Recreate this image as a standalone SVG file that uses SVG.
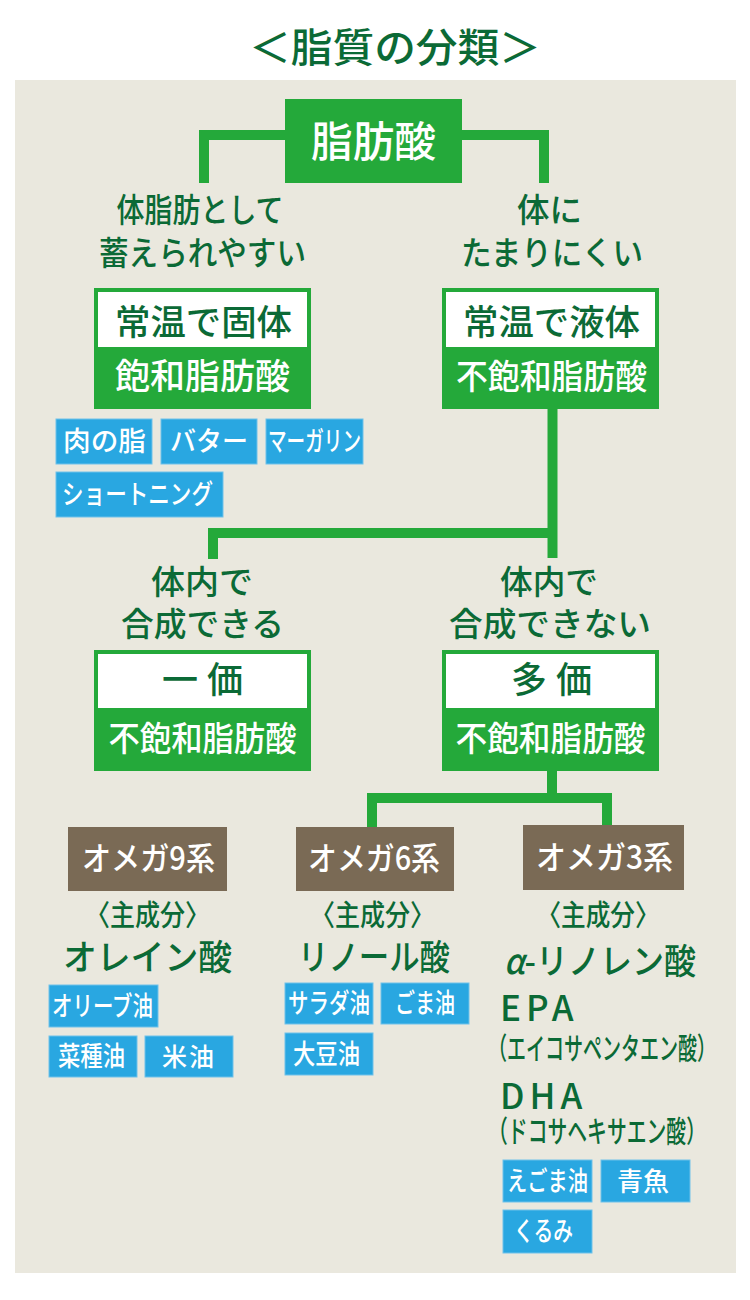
<svg xmlns="http://www.w3.org/2000/svg" width="750" height="1300" viewBox="0 0 750 1300">
<style>
text{font-family:"Noto Sans CJK JP","Noto Sans CJK SC",sans-serif;}
.dg{fill:#0B6A36;font-weight:500;}
.wt{fill:#FFFFFF;font-weight:500;}
.gbox{fill:#24A93A;}
.wbox{fill:#FFFFFF;}
.brown{fill:#7A6A55;}
.tag{fill:#29A7E1;stroke:#6FC1EA;stroke-width:1;}
.conn{fill:none;stroke:#24A93A;stroke-width:10;stroke-linejoin:miter;stroke-linecap:butt;}
.mid{text-anchor:middle;}
</style>
<rect x="0" y="0" width="750" height="1300" fill="#FFFFFF"/>
<rect x="15" y="80" width="721" height="1193" fill="#EAE8DE"/>
<g id="title">
<text x="395" y="62" class="dg mid" font-size="40" font-weight="700" textLength="292" lengthAdjust="spacingAndGlyphs">＜脂質の分類＞</text>
</g>
<g id="connectors">
<path class="conn" d="M204,183 V135 H544 V183"/>
<path class="conn" d="M552.5,409 V558 M552.5,533 H213 V559"/>
<path class="conn" d="M552,771 V798 M372,827 V798 H607 V825"/>
</g>
<g id="node-fatty-acid">
<rect class="gbox" x="285" y="99" width="177" height="84"/>
<text x="373.5" y="157" class="wt mid" font-size="42" textLength="125" lengthAdjust="spacingAndGlyphs">脂肪酸</text>
</g>
<g id="label-left-top">
<text x="200" y="222" class="dg mid" font-size="33" textLength="167" lengthAdjust="spacingAndGlyphs">体脂肪として</text>
<text x="202.5" y="265" class="dg mid" font-size="33" textLength="207" lengthAdjust="spacingAndGlyphs">蓄えられやすい</text>
</g>
<g id="label-right-top">
<text x="549.5" y="222" class="dg mid" font-size="33" textLength="65" lengthAdjust="spacingAndGlyphs">体に</text>
<text x="552" y="265" class="dg mid" font-size="33" textLength="182" lengthAdjust="spacingAndGlyphs">たまりにくい</text>
</g>
<g id="node-saturated">
<rect class="gbox" x="94" y="288" width="217" height="121"/>
<rect class="wbox" x="98" y="292" width="209" height="55"/>
<text x="203.5" y="335" class="dg mid" font-size="35" textLength="177" lengthAdjust="spacingAndGlyphs">常温で固体</text>
<text x="202.5" y="389" class="wt mid" font-size="35" textLength="175" lengthAdjust="spacingAndGlyphs">飽和脂肪酸</text>
</g>
<g id="node-unsaturated">
<rect class="gbox" x="442" y="288" width="217" height="121"/>
<rect class="wbox" x="446" y="292" width="209" height="55"/>
<text x="551.5" y="335" class="dg mid" font-size="35" textLength="177" lengthAdjust="spacingAndGlyphs">常温で液体</text>
<text x="551.5" y="389" class="wt mid" font-size="34" textLength="191" lengthAdjust="spacingAndGlyphs">不飽和脂肪酸</text>
</g>
<g id="tags-saturated">
<rect class="tag" x="56" y="419" width="96" height="45"/>
<text x="63" y="451" class="wt" font-size="27" textLength="83" lengthAdjust="spacingAndGlyphs">肉の脂</text>
<rect class="tag" x="161" y="419" width="96" height="45"/>
<text x="170" y="451" class="wt" font-size="27" textLength="78" lengthAdjust="spacingAndGlyphs">バター</text>
<rect class="tag" x="266" y="419" width="97" height="45"/>
<text x="268" y="451" class="wt" font-size="27" textLength="93" lengthAdjust="spacingAndGlyphs">マーガリン</text>
<rect class="tag" x="56" y="472" width="167" height="45"/>
<text x="62" y="504" class="wt" font-size="27" textLength="151" lengthAdjust="spacingAndGlyphs">ショートニング</text>
</g>
<g id="label-left-mid">
<text x="202" y="594" class="dg mid" font-size="33" textLength="102" lengthAdjust="spacingAndGlyphs">体内で</text>
<text x="202.5" y="636" class="dg mid" font-size="33" textLength="163" lengthAdjust="spacingAndGlyphs">合成できる</text>
</g>
<g id="label-right-mid">
<text x="549" y="594" class="dg mid" font-size="33" textLength="98" lengthAdjust="spacingAndGlyphs">体内で</text>
<text x="550" y="636" class="dg mid" font-size="33" textLength="202" lengthAdjust="spacingAndGlyphs">合成できない</text>
</g>
<g id="node-mono">
<rect class="gbox" x="94" y="650" width="217" height="121"/>
<rect class="wbox" x="98" y="654" width="209" height="54"/>
<text x="202.5" y="693" class="dg mid" font-size="36" font-weight="700" textLength="81" lengthAdjust="spacing">一価</text>
<text x="202.5" y="751" class="wt mid" font-size="34" textLength="188" lengthAdjust="spacingAndGlyphs">不飽和脂肪酸</text>
</g>
<g id="node-poly">
<rect class="gbox" x="442" y="650" width="217" height="121"/>
<rect class="wbox" x="446" y="654" width="209" height="54"/>
<text x="551.5" y="693" class="dg mid" font-size="36" font-weight="700" textLength="81" lengthAdjust="spacing">多価</text>
<text x="550.5" y="751" class="wt mid" font-size="34" textLength="190" lengthAdjust="spacingAndGlyphs">不飽和脂肪酸</text>
</g>
<g id="node-omega9">
<rect class="brown" x="68" y="827" width="159" height="64"/>
<text x="148.5" y="870" class="wt mid" font-size="32" textLength="133" lengthAdjust="spacingAndGlyphs">オメガ9系</text>
<text x="147.5" y="926" class="dg mid" font-size="29" textLength="125" lengthAdjust="spacingAndGlyphs">〈主成分〉</text>
<text x="147.5" y="970" class="dg mid" font-size="35" textLength="169" lengthAdjust="spacingAndGlyphs">オレイン酸</text>
<rect class="tag" x="49" y="985" width="109" height="42"/>
<text x="52" y="1016" class="wt" font-size="27" textLength="101" lengthAdjust="spacingAndGlyphs">オリーブ油</text>
<rect class="tag" x="49" y="1036" width="88" height="41"/>
<text x="58" y="1066" class="wt" font-size="27" textLength="67" lengthAdjust="spacingAndGlyphs">菜種油</text>
<rect class="tag" x="145" y="1036" width="88" height="41"/>
<text y="1066" class="wt" font-size="25"><tspan x="162">米</tspan><tspan x="189">油</tspan></text>
</g>
<g id="node-omega6">
<rect class="brown" x="296" y="827" width="158" height="64"/>
<text x="374" y="870" class="wt mid" font-size="32" textLength="132" lengthAdjust="spacingAndGlyphs">オメガ6系</text>
<text x="372.5" y="926" class="dg mid" font-size="29" textLength="125" lengthAdjust="spacingAndGlyphs">〈主成分〉</text>
<text x="374" y="970" class="dg mid" font-size="35" textLength="152" lengthAdjust="spacingAndGlyphs">リノール酸</text>
<rect class="tag" x="285" y="983" width="88" height="41"/>
<text x="288" y="1013" class="wt" font-size="27" textLength="82" lengthAdjust="spacingAndGlyphs">サラダ油</text>
<rect class="tag" x="381" y="983" width="88" height="41"/>
<text x="395" y="1013" class="wt" font-size="27" textLength="60" lengthAdjust="spacingAndGlyphs">ごま油</text>
<rect class="tag" x="285" y="1033" width="88" height="42"/>
<text x="293" y="1064" class="wt" font-size="27" textLength="67" lengthAdjust="spacingAndGlyphs">大豆油</text>
</g>
<g id="node-omega3">
<rect class="brown" x="523" y="825" width="161" height="65"/>
<text x="604.5" y="869" class="wt mid" font-size="32" textLength="137" lengthAdjust="spacingAndGlyphs">オメガ3系</text>
<text x="598" y="926" class="dg mid" font-size="29" textLength="123" lengthAdjust="spacingAndGlyphs">〈主成分〉</text>
<text x="504" y="974" class="dg" font-size="35" textLength="192" lengthAdjust="spacingAndGlyphs"><tspan font-style="italic">α</tspan>-リノレン酸</text>
<text x="500" y="1021" class="dg" font-size="35" letter-spacing="5">EPA</text>
<text x="488" y="1059" class="dg" font-size="30" textLength="228" lengthAdjust="spacingAndGlyphs">（エイコサペンタエン酸）</text>
<text x="500" y="1109" class="dg" font-size="35" letter-spacing="5">DHA</text>
<text x="488" y="1142" class="dg" font-size="30" textLength="218" lengthAdjust="spacingAndGlyphs">（ドコサヘキサエン酸）</text>
<rect class="tag" x="503" y="1160" width="89" height="42"/>
<text x="507" y="1191" class="wt" font-size="27" textLength="81" lengthAdjust="spacingAndGlyphs">えごま油</text>
<rect class="tag" x="601" y="1160" width="89" height="42"/>
<text y="1191" class="wt" font-size="26"><tspan x="617">青</tspan><tspan x="643">魚</tspan></text>
<rect class="tag" x="503" y="1210" width="89" height="43"/>
<text x="514" y="1241" class="wt" font-size="27" textLength="59" lengthAdjust="spacingAndGlyphs">くるみ</text>
</g>
</svg>
